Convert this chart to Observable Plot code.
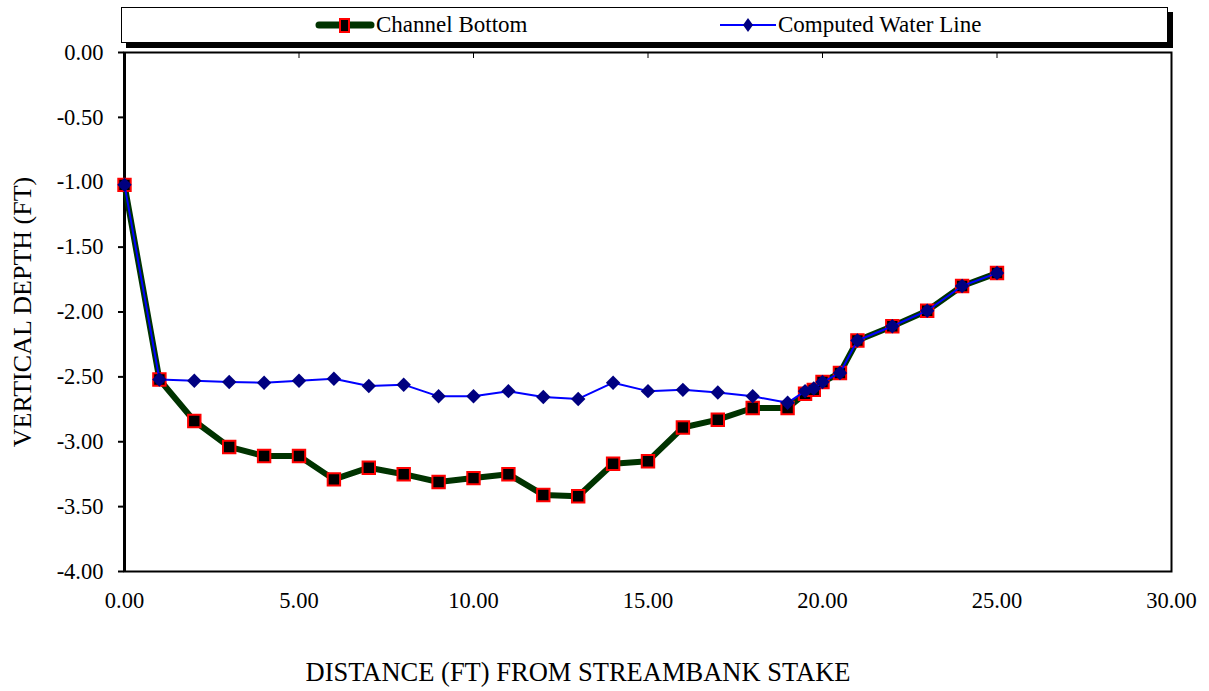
<!DOCTYPE html>
<html>
<head>
<meta charset="utf-8">
<script src="https://cdn.jsdelivr.net/npm/d3@7"></script>
<script src="https://cdn.jsdelivr.net/npm/@observablehq/plot@0.6"></script>
<style>
  html, body { margin: 0; padding: 0; background: #fff; }
  body { width: 1209px; height: 691px; overflow: hidden; font-family: "Liberation Serif", "Times New Roman", serif; }
  #legend { position: relative; width: 1209px; height: 30px; z-index: 2; }
  #legendbox { position: absolute; left: 121px; top: 7px; width: 1045px; height: 34px; border: 1px solid #000; background: #fff; box-shadow: 5px 5px 0 #000; }
  .item { position: absolute; top: 0; height: 34px; display: flex; align-items: center; font-size: 23px; color: #000; }
  .item svg { display: block; margin-right: 1px; }
  #chart { position: relative; z-index: 1; }
</style>
</head>
<body>
<div id="legend"><div id="legendbox"></div></div>
<div id="chart"></div>
<script>
// ---- data ----
const seriesNames = ["Channel Bottom", "Computed Water Line"];
const distance = [0, 1, 2, 3, 4, 5, 6, 7, 8, 9, 10, 11, 12, 13, 14, 15, 16, 17, 18, 19, 19.5, 19.75, 20, 20.5, 21, 22, 23, 24, 25];
const channelBottom = [-1.02, -2.52, -2.84, -3.04, -3.11, -3.11, -3.29, -3.20, -3.25, -3.31, -3.28, -3.25, -3.41, -3.42, -3.17, -3.15, -2.89, -2.83, -2.74, -2.74, -2.63, -2.60, -2.54, -2.47, -2.22, -2.11, -1.99, -1.80, -1.70];
const waterLine = [-1.02, -2.52, -2.53, -2.54, -2.545, -2.53, -2.515, -2.57, -2.56, -2.65, -2.65, -2.61, -2.655, -2.67, -2.545, -2.61, -2.60, -2.62, -2.65, -2.70, -2.61, -2.59, -2.54, -2.47, -2.22, -2.11, -1.99, -1.80, -1.70];
const xTicks = [0, 5, 10, 15, 20, 25, 30];
const yTicks = [-4, -3.5, -3, -2.5, -2, -1.5, -1, -0.5, 0];
const xLabel = "DISTANCE (FT) FROM STREAMBANK STAKE";
const yLabel = "VERTICAL DEPTH (FT)";

// ---- build tables ----
const bottomData = distance.map((d, i) => ({x: d, y: channelBottom[i]}));
const waterData = distance.map((d, i) => ({x: d, y: waterLine[i]}));

const fmt = d => d.toFixed(2);
const font = "'Liberation Serif', 'Times New Roman', serif";

// ---- legend ----
const box = document.getElementById("legendbox");
function legendItem(left, svgMarkup, text) {
  const div = document.createElement("div");
  div.className = "item";
  div.style.left = left + "px";
  div.innerHTML = svgMarkup + "<span>" + text + "</span>";
  box.appendChild(div);
}
legendItem(193,
  '<svg width="60" height="20"><line x1="4" y1="10" x2="56" y2="10" stroke="#003300" stroke-width="7" stroke-linecap="round"/><rect x="25" y="4" width="9" height="13" fill="#000" stroke="#ff0000" stroke-width="2"/></svg>',
  seriesNames[0]);
legendItem(597,
  '<svg width="58" height="20"><line x1="1" y1="10" x2="57" y2="10" stroke="#0000ff" stroke-width="2"/><path d="M29,3L34,10L29,17L24,10Z" fill="#000080"/></svg>',
  seriesNames[1]);

// ---- chart ----
const W = 1209, H = 661, MT = 22, MB = 120;
const chart = Plot.plot({
  width: W,
  height: H,
  marginTop: MT,
  marginLeft: 124,
  marginRight: 38,
  marginBottom: MB,
  style: {fontFamily: font, background: "transparent", color: "#000", overflow: "visible"},
  x: {domain: [0, 30]},
  y: {domain: [-4, 0]},
  marks: [
    Plot.axisX({anchor: "bottom", ticks: xTicks, tickFormat: fmt, tickSize: 0, tickPadding: 21, fontSize: 22.5, label: null}),
    Plot.tickX(xTicks, {x: d => d, insetBottom: H - MT - MB - 6, stroke: "#000", strokeWidth: 1}),
    Plot.axisY({anchor: "left", ticks: yTicks, tickFormat: fmt, tickSize: 6, tickPadding: 15, fontSize: 22.5, label: null, strokeWidth: 2}),
    Plot.frame({stroke: "#000", strokeWidth: 2}),
    Plot.ruleX([0], {stroke: "#000", strokeWidth: 3}),
    Plot.line(bottomData, {x: "x", y: "y", stroke: "#003300", strokeWidth: 6, strokeLinejoin: "round"}),
    Plot.dot(bottomData, {x: "x", y: "y", symbol: "square", r: 7, fill: "#000", stroke: "#ff0000", strokeWidth: 2}),
    Plot.line(waterData, {x: "x", y: "y", stroke: "#0000ff", strokeWidth: 2}),
    Plot.dot(waterData, {x: "x", y: "y", symbol: "diamond2", r: 6.5, fill: "#000080", stroke: "none"}),
    Plot.text([yLabel], {frameAnchor: "left", textAnchor: "middle", lineAnchor: "middle", rotate: -90, dx: -102, fontSize: 26, fill: "#000"}),
    Plot.text([xLabel], {frameAnchor: "bottom", textAnchor: "middle", lineAnchor: "middle", dx: -70, dy: 101, fontSize: 26.5, fill: "#000"})
  ]
});
document.getElementById("chart").appendChild(chart);
</script>
</body>
</html>
